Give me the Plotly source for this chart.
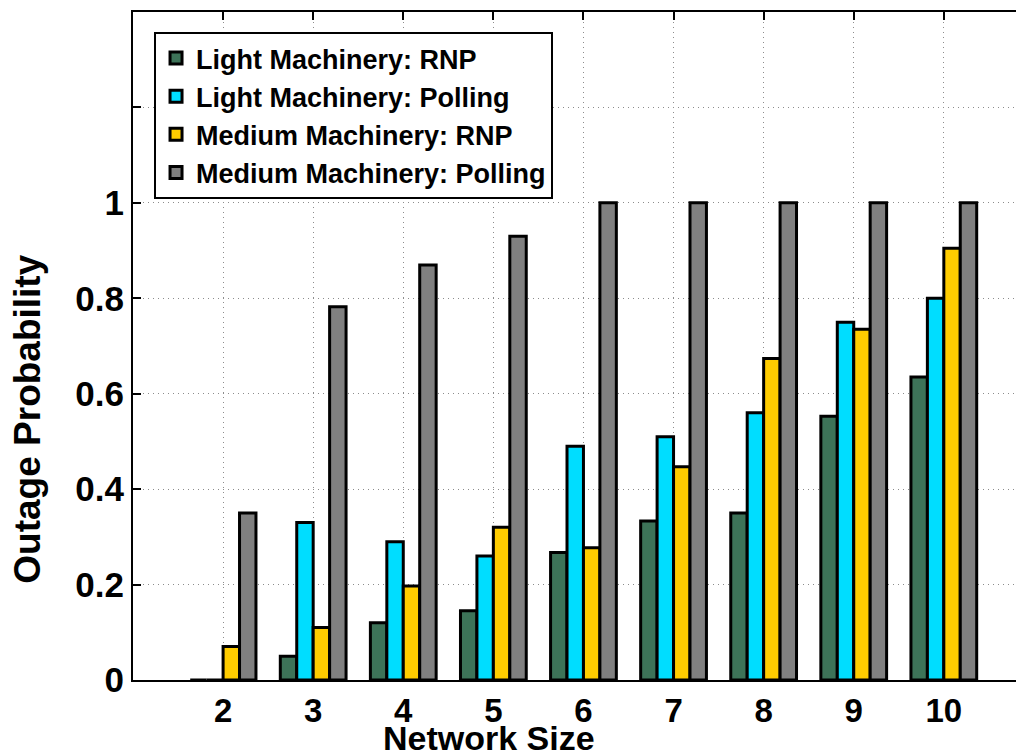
import plotly.graph_objects as go

network_size = [2, 3, 4, 5, 6, 7, 8, 9, 10]
light_rnp = [0.0, 0.05, 0.12, 0.145, 0.267, 0.333, 0.35, 0.553, 0.635]
light_polling = [0.0, 0.33, 0.29, 0.26, 0.49, 0.51, 0.56, 0.75, 0.80]
medium_rnp = [0.07, 0.11, 0.197, 0.32, 0.277, 0.447, 0.674, 0.735, 0.905]
medium_polling = [0.35, 0.782, 0.87, 0.93, 1.0, 1.0, 1.0, 1.0, 1.0]

series = [
    ("Light Machinery: RNP", light_rnp, "#3D7358"),
    ("Light Machinery: Polling", light_polling, "#00DDFF"),
    ("Medium Machinery: RNP", medium_rnp, "#FFCC00"),
    ("Medium Machinery: Polling", medium_polling, "#808080"),
]

y_ticks = [0, 0.2, 0.4, 0.6, 0.8, 1.0, 1.2, 1.4]
y_ticktext = ["0", "0.2", "0.4", "0.6", "0.8", "1", "", ""]

x_title = "Network Size"
y_title = "Outage Probability"

FONT = "Liberation Sans, Arial, sans-serif"

fig = go.Figure()
for name, vals, col in series:
    fig.add_trace(go.Bar(
        x=network_size, y=vals, name=name,
        marker=dict(color=col, line=dict(color="black", width=3)),
    ))

# page body has an 8px margin, so the figure is sized to end at the window edge
fig.update_layout(
    width=1016, height=743,
    margin=dict(l=125, r=0, t=4, b=71, autoexpand=False),
    paper_bgcolor="white", plot_bgcolor="white",
    barmode="group", bargap=0.27, bargroupgap=0,
    font=dict(family=FONT, color="black"),
    showlegend=True,
    legend=dict(
        x=0.0236, y=0.97, xanchor="left", yanchor="top",
        bgcolor="white", bordercolor="black", borderwidth=2,
        font=dict(family=FONT, size=27, color="black", weight="bold"),
        tracegroupgap=0,
    ),
)

fig.update_xaxes(
    range=[1, 10.89], automargin=False,
    tickvals=network_size,
    ticktext=[str(v) for v in network_size],
    tickfont=dict(family=FONT, size=33, color="black", weight="bold"),
    ticks="inside", ticklen=8, tickwidth=1.5, tickcolor="black",
    showline=True, linecolor="black", linewidth=2, mirror="ticks",
    showgrid=True, gridcolor="#8c8c8c", griddash="1px,4px", gridwidth=1,
    zeroline=False,
)
fig.update_yaxes(
    range=[0, 1.4], automargin=False,
    tickvals=y_ticks, ticktext=y_ticktext,
    tickfont=dict(family=FONT, size=35, color="black", weight="bold"),
    ticks="inside", ticklen=8, tickwidth=1.5, tickcolor="black",
    showline=True, linecolor="black", linewidth=2,
    showgrid=True, gridcolor="#8c8c8c", griddash="1px,4px", gridwidth=1,
    zeroline=False,
)

fig.add_annotation(
    text="<b>" + x_title + "</b>", xref="paper", yref="paper",
    x=0.4, y=-0.087, xanchor="center", yanchor="middle", showarrow=False,
    font=dict(family=FONT, size=34, color="black"),
)
fig.add_annotation(
    text="<b>" + y_title + "</b>", xref="paper", yref="paper",
    x=-0.118, y=0.391, xanchor="center", yanchor="middle", showarrow=False,
    textangle=-90, font=dict(family=FONT, size=37, color="black"),
)

fig.write_html("out.html")
